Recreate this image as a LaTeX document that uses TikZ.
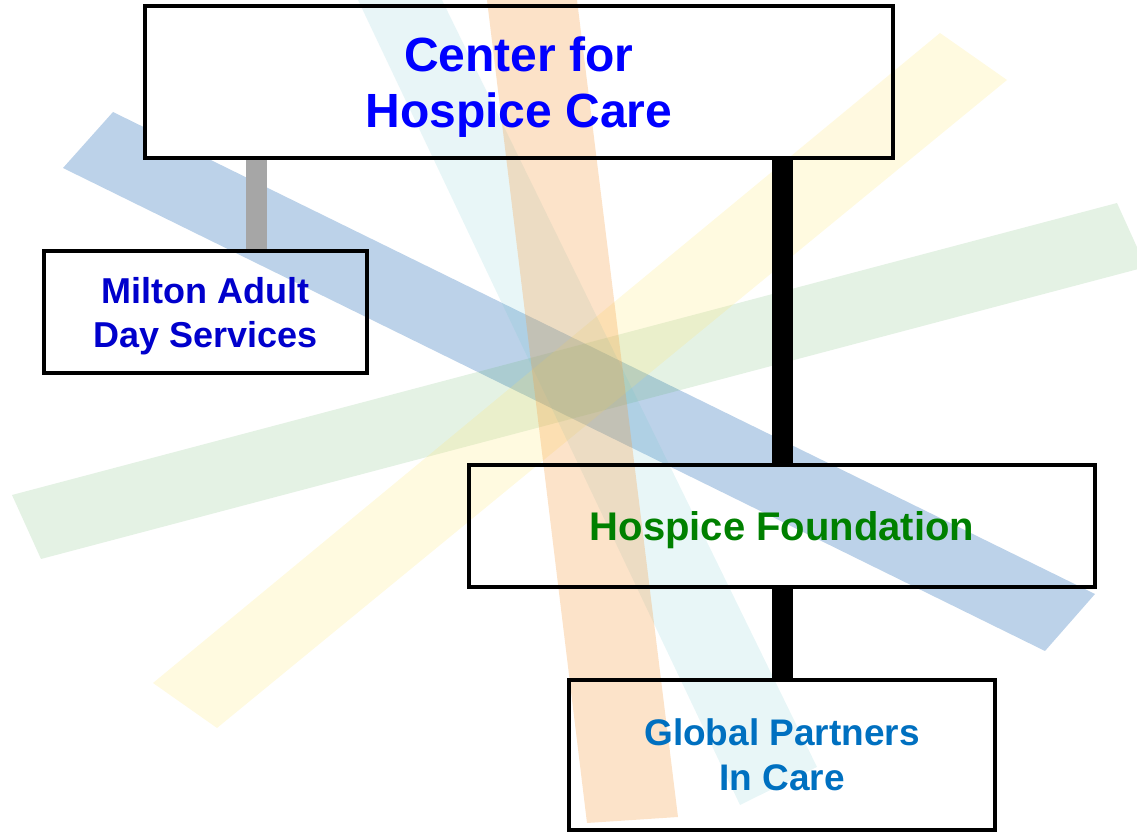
\documentclass[tikz,border=0pt]{standalone}
\usepackage{fontspec}
\setmainfont{Liberation Sans}
\definecolor{bandblue}{HTML}{3F7FBF}
\definecolor{bandgreen}{HTML}{4CA64C}
\definecolor{bandyellow}{HTML}{FFE566}
\definecolor{bandcyan}{HTML}{66C2CC}
\definecolor{bandorange}{HTML}{F59A3C}
\definecolor{linkgray}{HTML}{A6A6A6}
\definecolor{titleblue}{HTML}{0000FF}
\definecolor{miltonblue}{HTML}{0000CC}
\definecolor{foundgreen}{HTML}{008000}
\definecolor{globalblue}{HTML}{0070C0}
\pgfdeclarelayer{bands}
\pgfdeclarelayer{links}
\pgfsetlayers{bands,links,main}
\begin{document}
\begin{tikzpicture}[x=0.5pt,y=-0.5pt,
  box/.style={draw=black, line width=2pt, inner sep=0pt, align=center, text depth=0pt},
  link/.style={line width=10.5pt}]
\useasboundingbox (0,0) rectangle (1137,833);
\node[box, minimum width=374pt, minimum height=76pt, text=titleblue,
  font={\fontsize{24}{28}\selectfont\bfseries}] (center) at (519,82) {Center for\\Hospice Care};
\node[box, minimum width=161.5pt, minimum height=61pt, text=miltonblue,
  font={\fontsize{18}{22}\selectfont\bfseries}] (milton) at (205.5,312) {Milton Adult\\Day Services};
\node[box, minimum width=313pt, minimum height=61pt, text=foundgreen,
  font={\fontsize{20}{24}\selectfont\bfseries}] (found) at (782,526) {Hospice Foundation};
\node[box, minimum width=213pt, minimum height=75pt, text=globalblue,
  font={\fontsize{18.5}{22.5}\selectfont\bfseries}] (global) at (782,755) {Global Partners\\In Care};
\begin{pgfonlayer}{bands}
\begin{scope}
\clip (0,0) rectangle (1137,833);
\fill[bandblue, opacity=.35] (113,112) -- (1095,594) -- (1045,651) -- (63,168) -- cycle;
\fill[white] (center.south west) rectangle (center.north east);
\fill[bandgreen, opacity=.15] (12,495) -- (1117,203) -- (1146,267) -- (41,559) -- cycle;
\fill[bandyellow, opacity=.2] (153,683) -- (940,33) -- (1007,80) -- (217,728) -- cycle;
\fill[bandcyan, opacity=.15] (358,0) -- (442,0) -- (817,767) -- (740,805) -- cycle;
\fill[bandorange, opacity=.28] (487,0) -- (577,0) -- (678,817) -- (587,823) -- cycle;
\end{scope}
\end{pgfonlayer}
\begin{pgfonlayer}{links}
\coordinate (tap) at (256,0);
\draw[link, linkgray] (center.south -| tap) -- (milton.north -| tap);
\draw[link] (center.south -| found.north) -- (found.north);
\draw[link] (found.south) -- (global.north);
\end{pgfonlayer}
\end{tikzpicture}
\end{document}
